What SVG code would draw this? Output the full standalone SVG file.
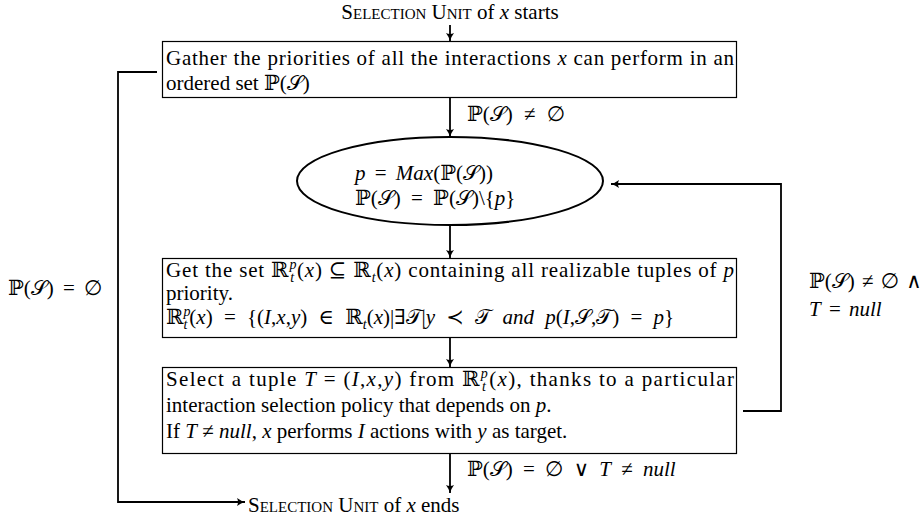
<svg xmlns="http://www.w3.org/2000/svg" width="922" height="521" viewBox="0 0 922 521">
<style>
.t{font-family:"Liberation Serif","DejaVu Serif","DejaVu Sans",serif;font-size:21px;fill:#000}
.i{font-style:italic}
.sc{font-size:15px}
.s{font-size:14px;font-style:italic}
.box{fill:#fff;stroke:#000;stroke-width:1.2}
.ell{fill:#fff;stroke:#000;stroke-width:2}
.c{fill:none;stroke:#000;stroke-width:1.8}
</style>
<defs>
<marker id="ah" markerUnits="userSpaceOnUse" markerWidth="10" markerHeight="10" viewBox="-9 -5 10 10" refX="0" refY="0" orient="auto">
<path d="M-8,-4 Q-4,-1 0,0 Q-4,1 -8,4 Q-6,0 -8,-4 Z" fill="#000"/>
</marker>
</defs>

<g id="start">
<text class="t" x="450" y="19" text-anchor="middle">S<tspan class="sc">ELECTION</tspan> U<tspan class="sc">NIT</tspan> of <tspan class="i">x</tspan> starts</text>
</g>

<g id="gather">
<rect class="box" x="162.5" y="41.5" width="574" height="56"/>
<text class="t" x="166" y="65" textLength="568" lengthAdjust="spacing">Gather the priorities of all the interactions <tspan class="i">x</tspan> can perform in an</text>
<text class="t" x="166" y="90">ordered set ℙ(𝒮)</text>
</g>

<g id="max">
<ellipse class="ell" cx="450" cy="181" rx="153" ry="44"/>
<text class="t" x="355" y="180" font-size="22" word-spacing="4"><tspan class="i">p</tspan> = <tspan class="i">Max</tspan>(ℙ(𝒮))</text>
<text class="t" x="355" y="205" font-size="22" word-spacing="5">ℙ(𝒮) = ℙ(𝒮)\{<tspan class="i">p</tspan>}</text>
</g>

<g id="getset">
<rect class="box" x="162.5" y="258.5" width="574" height="79"/>
<text class="t" x="166" y="277" textLength="568" lengthAdjust="spacing">Get the set ℝ<tspan class="s" dy="-8">p</tspan><tspan class="s" dx="-7" dy="13">t</tspan><tspan dx="2" dy="-5">(</tspan><tspan class="i">x</tspan>) ⊆ ℝ<tspan class="s" dy="5">t</tspan><tspan dy="-5">(</tspan><tspan class="i">x</tspan>) containing all realizable tuples of <tspan class="i">p</tspan></text>
<text class="t" x="166" y="300">priority.</text>
<text class="t" x="166" y="324" word-spacing="6">ℝ<tspan class="s" dy="-8">p</tspan><tspan class="s" dx="-7" dy="13">t</tspan><tspan dx="2" dy="-5">(</tspan><tspan class="i">x</tspan>) = {(<tspan class="i">I</tspan>,<tspan class="i">x</tspan>,<tspan class="i">y</tspan>) ∈ ℝ<tspan class="s" dy="5">t</tspan><tspan dy="-5">(</tspan><tspan class="i">x</tspan>)|∃𝒯|<tspan class="i">y</tspan> ≺ 𝒯 <tspan class="i">and p</tspan>(<tspan class="i">I</tspan>,𝒮,𝒯) = <tspan class="i">p</tspan>}</text>
</g>

<g id="select">
<rect class="box" x="162.5" y="367.5" width="574" height="86"/>
<text class="t" x="166" y="386" textLength="568" lengthAdjust="spacing">Select a tuple <tspan class="i">T</tspan> = (<tspan class="i">I</tspan>,<tspan class="i">x</tspan>,<tspan class="i">y</tspan>) from ℝ<tspan class="s" dy="-8">p</tspan><tspan class="s" dx="-7" dy="13">t</tspan><tspan dx="2" dy="-5">(</tspan><tspan class="i">x</tspan>), thanks to a particular</text>
<text class="t" x="166" y="412">interaction selection policy that depends on <tspan class="i">p</tspan>.</text>
<text class="t" x="166" y="438">If <tspan class="i">T</tspan> ≠ <tspan class="i">null</tspan>, <tspan class="i">x</tspan> performs <tspan class="i">I</tspan> actions with <tspan class="i">y</tspan> as target.</text>
</g>

<g id="end">
<text class="t" x="248" y="512">S<tspan class="sc">ELECTION</tspan> U<tspan class="sc">NIT</tspan> of <tspan class="i">x</tspan> ends</text>
</g>

<g id="connectors">
<path class="c" d="M450,25 V41" marker-end="url(#ah)"/>
<path class="c" d="M450,98 V137" marker-end="url(#ah)"/>
<path class="c" d="M450,226 V258" marker-end="url(#ah)"/>
<path class="c" d="M450,338 V367" marker-end="url(#ah)"/>
<path class="c" d="M450,454 V493" marker-end="url(#ah)"/>
<path class="c" d="M157,72 H118 V502 H245" marker-end="url(#ah)"/>
<path class="c" d="M743,411 H781 V184 H611" marker-end="url(#ah)"/>
<text class="t" x="467" y="121" word-spacing="6">ℙ(𝒮) ≠ ∅</text>
<text class="t" x="467" y="476" word-spacing="5">ℙ(𝒮) = ∅ ∨ <tspan class="i">T</tspan> ≠ <tspan class="i">null</tspan></text>
<text class="t" x="8" y="295" word-spacing="4">ℙ(𝒮) = ∅</text>
<text class="t" x="809" y="288" word-spacing="2">ℙ(𝒮) ≠ ∅ ∧</text>
<text class="t" x="809" y="316" word-spacing="3"><tspan class="i">T</tspan> = <tspan class="i">null</tspan></text>
</g>
</svg>
